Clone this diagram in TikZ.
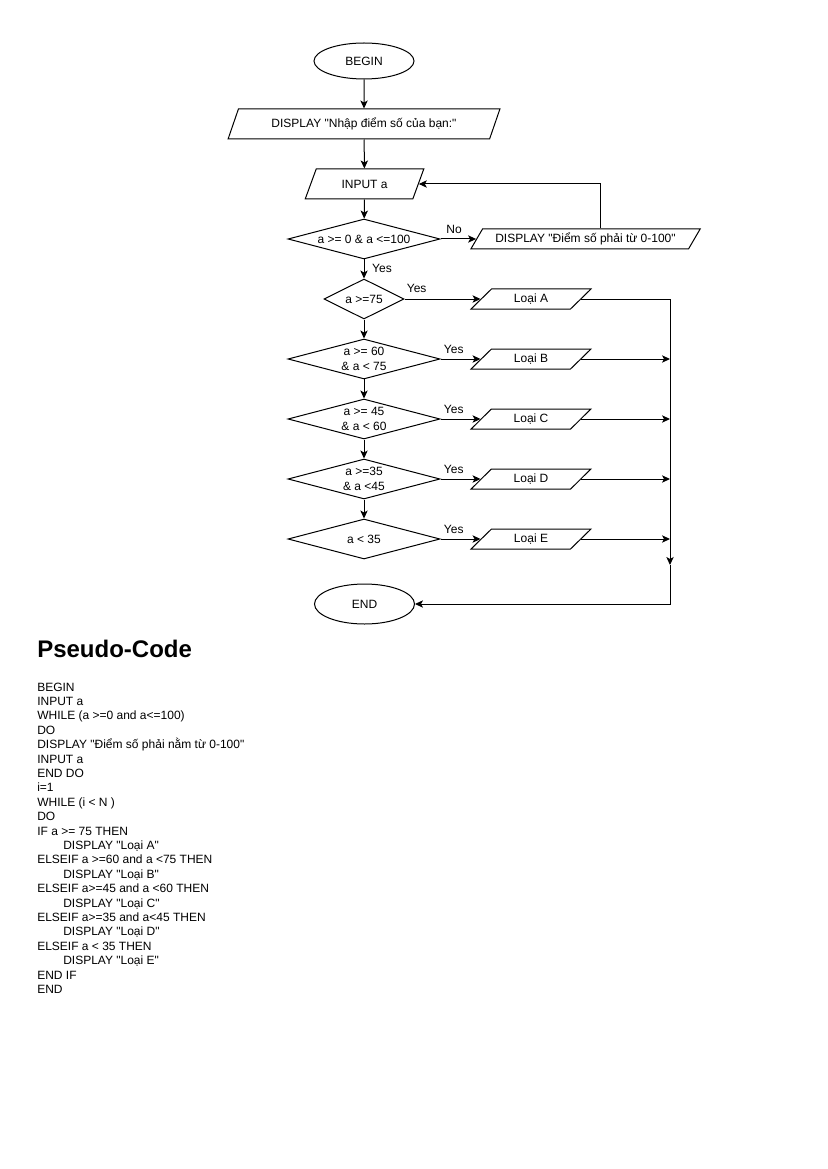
\documentclass[tikz,border=0pt]{standalone}
\usepackage{fontspec}
\setmainfont{Liberation Sans}[Ligatures=TeXOff]
\usetikzlibrary{arrows, arrows.meta, shapes, positioning}

\tikzset{
  base/.style={draw, line width=0.75pt, font=\fontsize{9}{11.25}\selectfont, align=center, inner sep=0pt},
  term/.style={base, ellipse, minimum width=75pt},
  io/.style={base, trapezium, trapezium stretches=true},
  tall/.style={io, minimum height=22.5pt, trapezium left angle=58, trapezium right angle=122},
  flat/.style={io, minimum height=15pt, trapezium left angle=50, trapezium right angle=130},
  decision/.style={base, diamond, aspect=3.8, minimum height=30pt},
  lbl/.style={font=\fontsize{9}{11.25}\selectfont, inner sep=0pt},
  arr/.style={-{Stealth[length=6pt, width=5.5pt, inset=1.5pt]}, line width=0.75pt}
}

\begin{document}
\begin{tikzpicture}[x=0.75pt, y=-0.75pt]
    \path[use as bounding box, fill=white] (0,0) rectangle (827,1169);

    \node[term, minimum height=27pt] (begin) at (364,61) {BEGIN};
    \node[tall, minimum width=204pt] (disp1) at (364,124) {DISPLAY "Nhập điểm số của bạn:"};
    \node[tall, minimum width=89pt] (input) at (364.5,184) {INPUT a};
    \node[decision, minimum width=114pt] (dec0) at (364,239) {a >= 0 \& a <=100};
    \node[flat, minimum width=172pt] (disp2) at (585.5,239) {DISPLAY "Điểm số phải từ 0-100"};

    \node[decision, minimum width=60pt, aspect=2] (decA) at (364,299) {a >=75};
    \node[decision, minimum width=114pt] (decB) at (364,359) {a >= 60\\ \& a < 75};
    \node[decision, minimum width=114pt] (decC) at (364,419) {a >= 45\\ \& a < 60};
    \node[decision, minimum width=114pt] (decD) at (364,479) {a >=35\\ \& a <45};
    \node[decision, minimum width=114pt] (decE) at (364,539) {a < 35};

    \node[flat, minimum width=90pt] (loaiA) at (531,299) {Loại A};
    \node[flat, minimum width=90pt] (loaiB) at (531,359) {Loại B};
    \node[flat, minimum width=90pt] (loaiC) at (531,419) {Loại C};
    \node[flat, minimum width=90pt] (loaiD) at (531,479) {Loại D};
    \node[flat, minimum width=90pt] (loaiE) at (531,539) {Loại E};

    \node[term, minimum height=30pt] (end) at (364.5,604) {END};
    \coordinate (rail) at (670,565);

    % main flow
    \draw[arr] (begin) -- (disp1);
    \draw[arr] (disp1) -- (input);
    \draw[arr] (input) -- (dec0);
    \draw[arr] (dec0.east) -- node[lbl, pos=0.38, yshift=7.5pt] {No} (disp2.left side);
    \draw[arr] ([xshift=10.9pt]disp2.north) |- (input.right side);
    \draw[arr] (dec0) -- node[lbl, pos=0.45, xshift=13.5pt] {Yes} (decA);
    \draw[arr] (decA) -- (decB);
    \draw[arr] (decB) -- (decC);
    \draw[arr] (decC) -- (decD);
    \draw[arr] (decD) -- (decE);

    % yes branches
    \draw[arr] (decA.east) -- node[lbl, pos=0.16, yshift=8.25pt] {Yes} (loaiA.left side);
    \draw[arr] (decB.east) -- node[lbl, pos=0.33, yshift=7.5pt] {Yes} (loaiB.left side);
    \draw[arr] (decC.east) -- node[lbl, pos=0.33, yshift=7.5pt] {Yes} (loaiC.left side);
    \draw[arr] (decD.east) -- node[lbl, pos=0.33, yshift=7.5pt] {Yes} (loaiD.left side);
    \draw[arr] (decE.east) -- node[lbl, pos=0.33, yshift=7.5pt] {Yes} (loaiE.left side);

    % to end
    \draw[arr] (loaiA.right side) -| (rail);
    \draw[arr] (loaiB.right side) -- (loaiB.right side -| rail);
    \draw[arr] (loaiC.right side) -- (loaiC.right side -| rail);
    \draw[arr] (loaiD.right side) -- (loaiD.right side -| rail);
    \draw[arr] (loaiE.right side) -- (loaiE.right side -| rail);
    \draw[arr] (rail) |- (end.east);

    % pseudo-code
    \node[anchor=base west, inner sep=0pt, font=\bfseries\fontsize{18}{21.6}\selectfont] (title) at (37,657) {Pseudo-Code};
    \node[anchor=north west, inner sep=0pt, align=left, font=\fontsize{9}{10.8}\selectfont] (code) at (37,682.4) {BEGIN\\
INPUT a\\
WHILE (a >=0 and a<=100)\\
DO\\
DISPLAY "Điểm số phải nằm từ 0-100"\\
INPUT a\\
END DO\\
i=1\\
WHILE (i < N )\\
DO\\
IF a >= 75 THEN\\
\hspace*{19.5pt}DISPLAY "Loại A"\\
ELSEIF a >=60 and a <75 THEN\\
\hspace*{19.5pt}DISPLAY "Loại B"\\
ELSEIF a>=45 and a <60 THEN\\
\hspace*{19.5pt}DISPLAY "Loại C"\\
ELSEIF a>=35 and a<45 THEN\\
\hspace*{19.5pt}DISPLAY "Loại D"\\
ELSEIF a < 35 THEN\\
\hspace*{19.5pt}DISPLAY "Loại E"\\
END IF\\
END};
\end{tikzpicture}
\end{document}
